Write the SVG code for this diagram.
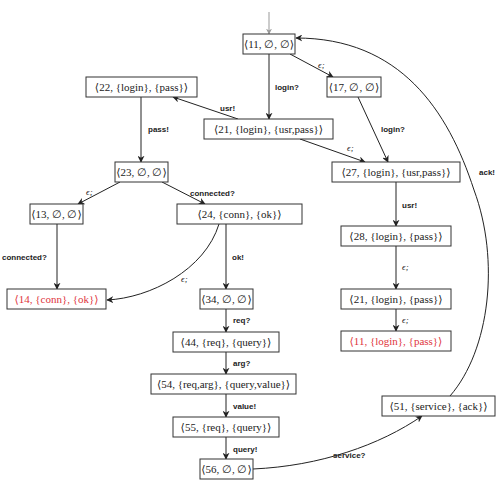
<svg xmlns="http://www.w3.org/2000/svg" width="499" height="485" viewBox="0 0 499 485">
<style>
.box{fill:#fff;stroke:#333;stroke-width:1}
.t{font-family:"Liberation Serif","DejaVu Serif",serif;font-size:11px;text-anchor:middle;fill:#222}
.r{fill:#e0353c}
.lb{font-family:"Liberation Sans",Arial,sans-serif;font-size:8px;font-weight:bold;fill:#222}
.ep{font-family:"Liberation Serif",serif;font-size:9px;font-style:italic;fill:#222}
.e{fill:none;stroke:#222;stroke-width:1;marker-end:url(#ah)}
</style>
<defs>
<marker id="ah" viewBox="0 0 10 10" refX="9" refY="5" markerWidth="7" markerHeight="7" orient="auto" markerUnits="userSpaceOnUse">
<path d="M0,0 L10,5 L0,10 L3,5 Z" fill="#222"/>
</marker>
<marker id="ahg" viewBox="0 0 10 10" refX="9" refY="5" markerWidth="6" markerHeight="6" orient="auto" markerUnits="userSpaceOnUse">
<path d="M0,0 L10,5 L0,10 L3,5 Z" fill="#999"/>
</marker>
</defs>
<g id="connectors">
<line x1="269" y1="12" x2="269" y2="34" stroke="#999" stroke-width="1" marker-end="url(#ahg)"/>
<line class="e" x1="269" y1="53" x2="269" y2="119"/>
<line class="e" x1="290" y1="54" x2="333" y2="77"/>
<line class="e" x1="358" y1="97" x2="388" y2="162"/>
<line class="e" x1="238" y1="119" x2="173" y2="97"/>
<line class="e" x1="300" y1="139" x2="365" y2="162"/>
<line class="e" x1="141" y1="97" x2="141" y2="162"/>
<line class="e" x1="120" y1="182" x2="78" y2="204"/>
<line class="e" x1="162" y1="182" x2="205" y2="204"/>
<line class="e" x1="57" y1="224" x2="57" y2="289"/>
<path class="e" d="M219,224 C205,270 150,298 107,300"/>
<line class="e" x1="226" y1="224" x2="226" y2="289"/>
<line class="e" x1="226" y1="309" x2="226" y2="332"/>
<line class="e" x1="226" y1="352" x2="226" y2="374"/>
<line class="e" x1="226" y1="394" x2="226" y2="417"/>
<line class="e" x1="226" y1="437" x2="226" y2="459"/>
<line class="e" x1="396" y1="182" x2="396" y2="226"/>
<line class="e" x1="396" y1="246" x2="396" y2="289"/>
<line class="e" x1="396" y1="309" x2="396" y2="331"/>
<path class="e" d="M253,469 C320,466 380,445 422,416"/>
<path class="e" d="M450,396 C490,350 500,260 474,190 C448,110 400,38 296,38"/>
</g>
<g id="labels">
<text class="lb" x="275" y="90">login?</text>
<text class="ep" x="318" y="68">ϵ;</text>
<text class="lb" x="381" y="132">login?</text>
<text class="lb" x="220" y="111">usr!</text>
<text class="ep" x="347" y="151">ϵ;</text>
<text class="lb" x="148" y="132">pass!</text>
<text class="ep" x="86" y="195">ϵ;</text>
<text class="lb" x="190" y="196">connected?</text>
<text class="lb" x="2" y="260">connected?</text>
<text class="ep" x="181" y="282">ϵ;</text>
<text class="lb" x="232" y="260">ok!</text>
<text class="lb" x="233" y="323">req?</text>
<text class="lb" x="233" y="366">arg?</text>
<text class="lb" x="233" y="409">value!</text>
<text class="lb" x="233" y="452">query!</text>
<text class="lb" x="402" y="208">usr!</text>
<text class="ep" x="402" y="270">ϵ;</text>
<text class="ep" x="402" y="323">ϵ;</text>
<text class="lb" x="333" y="458">service?</text>
<text class="lb" x="479" y="175">ack!</text>
</g>
<g id="n11"><rect class="box" x="243" y="34" width="52" height="20"/><text class="t" x="269" y="47.5">⟨11, ∅, ∅⟩</text></g>
<g id="n17"><rect class="box" x="327" y="77" width="54" height="20"/><text class="t" x="354" y="90.5">⟨17, ∅, ∅⟩</text></g>
<g id="n22"><rect class="box" x="86" y="77" width="111" height="20"/><text class="t" x="141.5" y="90.5">⟨22, {login}, {pass}⟩</text></g>
<g id="n21a"><rect class="box" x="204" y="119" width="129" height="20"/><text class="t" x="268.5" y="132.5">⟨21, {login}, {usr,pass}⟩</text></g>
<g id="n27"><rect class="box" x="332" y="162" width="128" height="20"/><text class="t" x="396" y="175.5">⟨27, {login}, {usr,pass}⟩</text></g>
<g id="n23"><rect class="box" x="115" y="162" width="53" height="20"/><text class="t" x="141.5" y="175.5">⟨23, ∅, ∅⟩</text></g>
<g id="n13"><rect class="box" x="30" y="204" width="53" height="20"/><text class="t" x="56.5" y="217.5">⟨13, ∅, ∅⟩</text></g>
<g id="n24"><rect class="box" x="177" y="204" width="125" height="20"/><text class="t" x="239.5" y="217.5">⟨24, {conn}, {ok}⟩</text></g>
<g id="n14"><rect class="box" x="7" y="289" width="99" height="20"/><text class="t r" x="56.5" y="302.5">⟨14, {conn}, {ok}⟩</text></g>
<g id="n34"><rect class="box" x="200" y="289" width="53" height="20"/><text class="t" x="226.5" y="302.5">⟨34, ∅, ∅⟩</text></g>
<g id="n28"><rect class="box" x="341" y="226" width="110" height="20"/><text class="t" x="396" y="239.5">⟨28, {login}, {pass}⟩</text></g>
<g id="n21b"><rect class="box" x="341" y="289" width="110" height="20"/><text class="t" x="396" y="302.5">⟨21, {login}, {pass}⟩</text></g>
<g id="n11r"><rect class="box" x="341" y="331" width="110" height="20"/><text class="t r" x="396" y="344.5">⟨11, {login}, {pass}⟩</text></g>
<g id="n44"><rect class="box" x="173" y="332" width="106" height="20"/><text class="t" x="226" y="345.5">⟨44, {req}, {query}⟩</text></g>
<g id="n54"><rect class="box" x="151" y="374" width="145" height="20"/><text class="t" x="223.5" y="387.5">⟨54, {req,arg}, {query,value}⟩</text></g>
<g id="n55"><rect class="box" x="173" y="417" width="106" height="20"/><text class="t" x="226" y="430.5">⟨55, {req}, {query}⟩</text></g>
<g id="n56"><rect class="box" x="200" y="459" width="53" height="20"/><text class="t" x="226.5" y="472.5">⟨56, ∅, ∅⟩</text></g>
<g id="n51"><rect class="box" x="382" y="396" width="113" height="20"/><text class="t" x="438.5" y="409.5">⟨51, {service}, {ack}⟩</text></g>
</svg>
